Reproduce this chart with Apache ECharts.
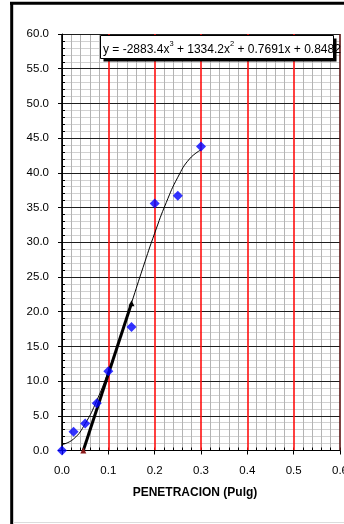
<!DOCTYPE html>
<html><head><meta charset="utf-8">
<script src="https://cdn.jsdelivr.net/npm/echarts@6/dist/echarts.min.js"></script>
<style>html,body{margin:0;padding:0;background:#fff}#c{width:344px;height:524px}</style>
</head><body><div id="c"></div>
<script>
// measured points
const penetration = [0, 0.025, 0.05, 0.075, 0.1, 0.15, 0.2, 0.25, 0.3];
const load = [0, 2.7, 3.9, 6.8, 11.4, 17.8, 35.6, 36.7, 43.8];
// polynomial trend line
const trendX = [0, 0.025, 0.05, 0.075, 0.1, 0.125, 0.15, 0.175, 0.2, 0.225, 0.25, 0.275, 0.3];
const trendY = [0.85, 1.66, 3.86, 7.19, 11.38, 16.16, 21.25, 26.39, 31.30, 35.72, 39.37, 41.99, 43.31];
// correction tangent line
const tangentX = [0.046, 0.15];
const tangentY = [0, 21.2];
// axis ranges [min, max, major, minor]
const xRange = [0, 0.6, 0.1, 0.02];
const yRange = [0, 60, 5, 1];
const eqParts = ['y = -2883.4x', '3', ' + 1334.2x', '2', ' + 0.7691x + 0.8482'];
const xTitle = 'PENETRACION (Pulg)';

const FONT = "'Liberation Sans', Arial, sans-serif";
const chart = echarts.init(document.getElementById('c'), null, {renderer: 'canvas'});

const zip = (a, b) => a.map((v, i) => [v, b[i]]);

const eqRich = '{n|' + eqParts[0] + '}{s|' + eqParts[1] + '}{n|' + eqParts[2] + '}{s|' + eqParts[3] + '}{n|' + eqParts[4] + '}';

const XG = '#b4b4b4', YG = '#d2d2d2', NONE = 'rgba(0,0,0,0)', RED = '#ff1010';

chart.setOption({
  animation: false,
  backgroundColor: '#fff',
  grid: {left: 62, top: 34, width: 278, height: 416.5, containLabel: false, outerBoundsMode: 'none'},
  xAxis: [
    { // major axis
      type: 'value', min: xRange[0], max: xRange[1], interval: xRange[2], position: 'bottom', z: 2,
      axisLine: {show: true, lineStyle: {color: '#000', width: 1}},
      axisTick: {show: true, inside: false, length: 4, lineStyle: {color: '#000'}},
      axisLabel: {show: true, formatter: v => v.toFixed(1), fontSize: 11.5, color: '#000', fontFamily: FONT, margin: 14},
      splitLine: {show: true, lineStyle: {color: ['#000', RED, RED, RED, RED, RED, '#5c1414'], width: 1.6}}
    },
    { // minor grid
      type: 'value', min: xRange[0], max: xRange[1], interval: xRange[3], position: 'bottom', z: 1,
      axisLine: {show: false},
      axisTick: {show: true, inside: true, length: 3, lineStyle: {color: '#000'}},
      axisLabel: {show: false},
      splitLine: {show: true, lineStyle: {color: [NONE, XG, XG, XG, XG], width: 1}}
    }
  ],
  yAxis: [
    {
      type: 'value', min: yRange[0], max: yRange[1], interval: yRange[2], position: 'left', z: 2,
      axisLine: {show: true, lineStyle: {color: '#000', width: 1}},
      axisTick: {show: true, inside: false, length: 4, lineStyle: {color: '#000'}},
      axisLabel: {show: true, formatter: v => v.toFixed(1), fontSize: 11.5, color: '#000', fontFamily: FONT, margin: 13},
      splitLine: {show: true, lineStyle: {color: '#1e1e1e', width: 1}}
    },
    {
      type: 'value', min: yRange[0], max: yRange[1], interval: yRange[3], position: 'left', z: 0,
      axisLine: {show: false},
      axisTick: {show: true, inside: true, length: 3, lineStyle: {color: '#000'}},
      axisLabel: {show: false},
      splitLine: {show: true, lineStyle: {color: [NONE, YG, YG, YG, YG], width: 1}}
    }
  ],
  series: [
    {
      type: 'line', data: zip(trendX, trendY), smooth: true, showSymbol: false, symbol: 'none',
      lineStyle: {color: '#000', width: 1}, z: 3, silent: true
    },
    {
      type: 'line', data: zip(tangentX, tangentY).map((p, i) => ({
        value: p, itemStyle: {color: i === 0 ? '#8b1a1a' : '#000'}
      })),
      symbol: 'triangle', symbolSize: 6, showSymbol: true,
      lineStyle: {color: '#000', width: 3}, z: 4, silent: true
    },
    {
      type: 'scatter', data: zip(penetration, load), symbol: 'diamond', symbolSize: 10,
      itemStyle: {color: '#0000ff'}, z: 5, silent: true
    }
  ],
  graphic: [
    {type: 'line', shape: {x1: 11.7, y1: 2, x2: 11.7, y2: 524}, style: {stroke: '#000', lineWidth: 3}, z: 100},
    {type: 'line', shape: {x1: 10, y1: 3.3, x2: 344, y2: 3.3}, style: {stroke: '#000', lineWidth: 3}, z: 100},
    {type: 'line', shape: {x1: 13, y1: 522.5, x2: 344, y2: 522.5}, style: {stroke: '#dcdcdc', lineWidth: 1}, z: 100},
    {type: 'rect', shape: {x: 103.5, y: 38.5, width: 233, height: 23}, style: {fill: '#000'}, z: 100},
    {type: 'rect', shape: {x: 100.5, y: 35.5, width: 233, height: 23}, style: {fill: '#fff', stroke: '#000', lineWidth: 1}, z: 101},
    {type: 'text', x: 103, y: 47.5, style: {
      text: eqRich, fontSize: 12, fontFamily: FONT, fill: '#000', verticalAlign: 'middle', align: 'left',
      rich: {
        n: {fontSize: 12, fontFamily: FONT, fill: '#000', lineHeight: 16, verticalAlign: 'bottom'},
        s: {fontSize: 7.5, fontFamily: FONT, fill: '#000', lineHeight: 16, verticalAlign: 'top'}
      }
    }, z: 102},
    {type: 'text', x: 195, y: 493, style: {text: xTitle, fontSize: 12, fontWeight: 'bold', fontFamily: FONT, fill: '#000', verticalAlign: 'middle', align: 'center'}, z: 102}
  ]
});
</script>
</body></html>
